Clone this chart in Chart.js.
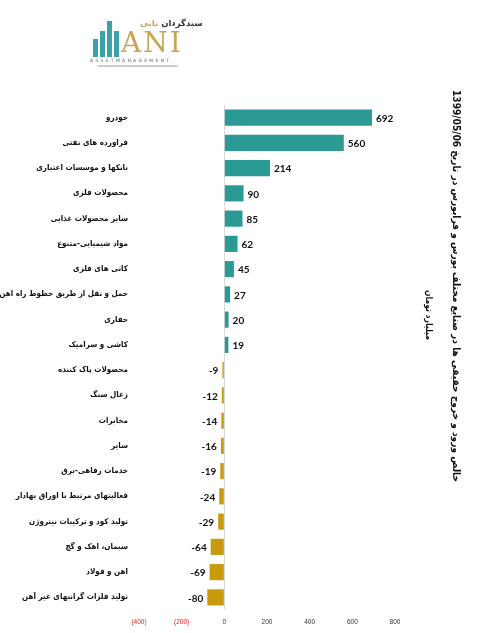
<!DOCTYPE html>
<html>
<head>
<meta charset="utf-8">
<script src="https://cdn.jsdelivr.net/npm/chart.js@4"></script>
<style>
  body { margin: 0; background: #fff; }
  #wrap { position: relative; width: 492px; height: 633px; }
  #logo { position: absolute; left: 88px; top: 14px; width: 105px; height: 60px; }
  .bar { position: absolute; bottom: 0; background: #3aa3a8; }
  #ani { position: absolute; left: 33px; top: 15px; font-family: "DejaVu Serif", serif; font-size: 28px; color: #c9a55a; letter-spacing: 2px; line-height: 1; }
  #fa { position: absolute; left: 52px; top: 4px; white-space: nowrap; font-family: "DejaVu Sans", sans-serif; font-size: 8.5px; font-weight: bold; color: #333; direction: rtl; }
  #fa span { color: #c9a55a; }
  #am { position: absolute; left: 2px; top: 44px; font-family: "DejaVu Sans", sans-serif; font-size: 4.5px; letter-spacing: 2.3px; color: #666; white-space: nowrap; }
  #sub { position: absolute; left: 10px; top: 51px; width: 80px; height: 2px; background: #ccc; }
</style>
</head>
<body>
<div id="wrap">
  <canvas id="IDCHART" width="492" height="633"></canvas>
  <div id="logo">
    <div style="position:absolute;left:5px;top:0;width:28px;height:43px;">
      <div class="bar" style="left:0;width:5px;height:18px;"></div>
      <div class="bar" style="left:7px;width:5px;height:26px;"></div>
      <div class="bar" style="left:14px;width:5px;height:36px;"></div>
      <div class="bar" style="left:21px;width:5px;height:26px;"></div>
    </div>
    <div id="fa">سبدگردان <span>ثانی</span></div>
    <div id="ani">ANI</div>
    <div id="am">ASSETMANAGEMENT</div>
    <div id="sub"></div>
  </div>
</div>
<script>
// صنایع (از بالا به پایین)
var categories = [
  'خودرو',
  'فراورده های نفتی',
  'بانکها و موسسات اعتباری',
  'محصولات فلزی',
  'سایر محصولات غذایی',
  'مواد شیمیایی-متنوع',
  'کانی های فلزی',
  'حمل و نقل از طریق خطوط راه اهن',
  'حفاری',
  'کاشی و سرامیک',
  'محصولات پاک کننده',
  'زغال سنگ',
  'مخابرات',
  'سایر',
  'خدمات رفاهی-برق',
  'فعالیتهای مرتبط با اوراق بهادار',
  'تولید کود و ترکیبات نیتروژن',
  'سیمان، اهک و گچ',
  'اهن و فولاد',
  'تولید فلزات گرانبهای غیر آهن'
];

// خالص ورود و خروج حقیقی (میلیارد تومان)
var netFlow = [692, 560, 214, 90, 85, 62, 45, 27, 20, 19, -9, -12, -14, -16, -19, -24, -29, -64, -69, -80];

var tickValues = [-400, -200, 0, 200, 400, 600, 800];

var chartTitle = 'خالص ورود و خروج حقیقی ها در صنایع مختلف بورس و فرابورس در تاریخ 1399/05/06';
var chartUnit = 'میلیارد تومان';

var COLOR_POS = '#2b9a94';
var COLOR_NEG = '#c99b0c';

//===================================== label nilai di ujung bar
var valueLabels = {
  id: 'valueLabels',
  afterDatasetsDraw: function (chart) {
    var ctx = chart.ctx;
    var meta = chart.getDatasetMeta(0);
    ctx.save();
    ctx.font = 'bold 10px Lato, "Open Sans", sans-serif';
    ctx.fillStyle = '#111';
    ctx.textBaseline = 'middle';
    meta.data.forEach(function (bar, i) {
      var v = netFlow[i];
      if (v >= 0) {
        ctx.textAlign = 'left';
        ctx.fillText(String(v), bar.x + 4, bar.y + 1);
      } else {
        ctx.textAlign = 'right';
        ctx.fillText(String(v), bar.x - 4, bar.y + 1);
      }
    });
    ctx.restore();
  }
};

// teks diputar 90 derajat, lebarnya dipaskan ke panjang target
function drawRotated(ctx, text, cx, cy, font, targetLen) {
  ctx.save();
  ctx.translate(cx, cy);
  ctx.rotate(Math.PI / 2);
  ctx.font = font;
  var w = ctx.measureText(text).width;
  if (targetLen) ctx.scale(targetLen / w, 1);
  ctx.fillText(text, 0, 0);
  ctx.restore();
}

//===================================== judul vertikal di kanan
var sideTitle = {
  id: 'sideTitle',
  afterDraw: function (chart) {
    var ctx = chart.ctx;
    ctx.save();
    ctx.direction = 'rtl';
    ctx.textAlign = 'center';
    ctx.textBaseline = 'middle';
    ctx.fillStyle = '#111';
    drawRotated(ctx, chartTitle, 456, 286, 'bold 10px "DejaVu Sans Condensed", "DejaVu Sans", sans-serif', 392);
    drawRotated(ctx, chartUnit, 428, 315, 'bold 9px "DejaVu Sans Condensed", "DejaVu Sans", sans-serif', 50);
    ctx.restore();
  }
};

function formatTick(val) {
  if (val < 0) return '(' + Math.abs(val) + ')';
  return String(val);
}

new Chart(document.getElementById('IDCHART'), {
  type: 'bar',
  data: {
    labels: categories,
    datasets: [{
      data: netFlow,
      backgroundColor: netFlow.map(function (v) { return v >= 0 ? COLOR_POS : COLOR_NEG; }),
      borderWidth: 0,
      categoryPercentage: 1,
      barPercentage: 0.64
    }]
  },
  options: {
    indexAxis: 'y',
    responsive: false,
    animation: false,
    layout: { padding: { top: 105, right: 97, bottom: 0, left: 0 } },
    plugins: {
      legend: { display: false },
      tooltip: { enabled: false }
    },
    scales: {
      x: {
        min: -400,
        max: 800,
        afterBuildTicks: function (scale) {
          scale.ticks = tickValues.map(function (v) { return { value: v }; });
        },
        afterFit: function (scale) { scale.height = 23; },
        border: { display: false },
        grid: {
          drawTicks: false,
          color: function (c) { return c.tick && c.tick.value === 0 ? '#d9d9d9' : 'rgba(0,0,0,0)'; }
        },
        ticks: {
          padding: 8,
          maxRotation: 0,
          font: { size: 6.5, family: '"Liberation Sans", Arial, sans-serif' },
          color: function (c) { return c.tick && c.tick.value < 0 ? '#e0201b' : '#333'; },
          callback: function (v) { return formatTick(v); }
        }
      },
      y: {
        afterFit: function (scale) { scale.width = 139; },
        border: { display: false },
        grid: { display: false, drawTicks: false },
        ticks: {
          padding: 11,
          autoSkip: false,
          color: '#111',
          font: { size: 8, weight: 'bold', family: '"DejaVu Sans Condensed", "DejaVu Sans", sans-serif' }
        }
      }
    }
  },
  plugins: [valueLabels, sideTitle]
});
</script>
</body>
</html>
